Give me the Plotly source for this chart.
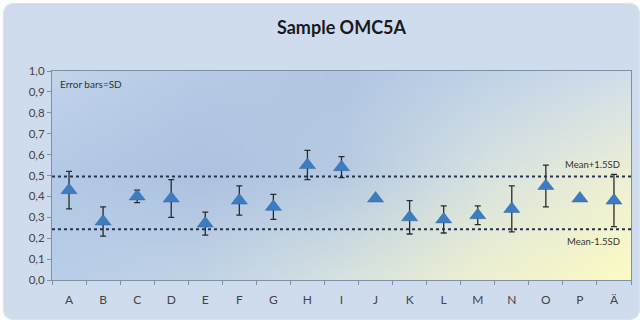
import base64
import struct
import zlib
import plotly.graph_objects as go

categories = ["A", "B", "C", "D", "E", "F", "G", "H", "I", "J", "K", "L", "M", "N", "O", "P", "Ä"]
means = [0.43, 0.28, 0.40, 0.39, 0.27, 0.38, 0.35, 0.55, 0.54, 0.39, 0.30, 0.29, 0.31, 0.34, 0.45, 0.39, 0.38]
sd = [0.09, 0.07, 0.03, 0.09, 0.055, 0.07, 0.06, 0.07, 0.05, 0.01, 0.08, 0.065, 0.045, 0.11, 0.10, 0.01, 0.125]
upper_limit = 0.495
lower_limit = 0.243
y_ticks = [0.0, 0.1, 0.2, 0.3, 0.4, 0.5, 0.6, 0.7, 0.8, 0.9, 1.0]

W, H = 643, 327
L, R, T, B = 52, 12, 71, 47
PW, PH = W - L - R, H - T - B


def encode_png(w, h, rows, rgba):
    raw = b"".join(bytes([0]) + bytes(r) for r in rows)

    def chunk(tag, data):
        c = struct.pack(">I", len(data)) + tag + data
        return c + struct.pack(">I", zlib.crc32(tag + data) & 0xFFFFFFFF)

    png = b"\x89PNG\r\n\x1a\n"
    png += chunk(b"IHDR", struct.pack(">IIBBBBB", w, h, 8, 6 if rgba else 2, 0, 0, 0))
    png += chunk(b"IDAT", zlib.compress(raw, 9))
    png += chunk(b"IEND", b"")
    return "data:image/png;base64," + base64.b64encode(png).decode()


def png_gradient(w, h, grid):
    rows = []
    gh, gw = len(grid), len(grid[0])
    for j in range(h):
        row = bytearray()
        fy = j / (h - 1) * (gh - 1)
        j0 = min(int(fy), gh - 2)
        ty = fy - j0
        for i in range(w):
            fx = i / (w - 1) * (gw - 1)
            i0 = min(int(fx), gw - 2)
            tx = fx - i0
            for c in range(3):
                a = grid[j0][i0][c] * (1 - tx) + grid[j0][i0 + 1][c] * tx
                b = grid[j0 + 1][i0][c] * (1 - tx) + grid[j0 + 1][i0 + 1][c] * tx
                row.append(int(round(a * (1 - ty) + b * ty)))
        rows.append(row)
    return encode_png(w, h, rows, False)


def png_rounded_box(w, h, rad, fill, edge):
    rows = []
    for j in range(h):
        row = bytearray()
        for i in range(w):
            cx = min(max(i + 0.5, rad), w - rad)
            cy = min(max(j + 0.5, rad), h - rad)
            d = ((i + 0.5 - cx) ** 2 + (j + 0.5 - cy) ** 2) ** 0.5
            a = max(0.0, min(1.0, rad - d + 0.5))
            col = edge if d > rad - 1.5 or i == 0 or j == 0 or i == w - 1 or j == h - 1 else fill
            row.extend(col)
            row.append(int(round(255 * a)))
        rows.append(row)
    return encode_png(w, h, rows, True)


grid = [
    [(194, 211, 234), (182, 202, 229), (178, 198, 226), (192, 210, 232), (208, 222, 234)],
    [(180, 201, 229), (172, 194, 224), (182, 202, 226), (215, 226, 224), (238, 240, 212)],
    [(184, 205, 231), (192, 210, 230), (214, 226, 224), (238, 240, 208), (252, 250, 196)],
]
bg_img = png_gradient(80, 40, grid)

bx0, bx1, by0, by1 = 3, 640, 3, 320
box_img = png_rounded_box(bx1 - bx0, by1 - by0, 10, (207, 220, 238), (215, 225, 240))

fig = go.Figure()
fig.add_trace(go.Scatter(
    x=categories, y=means, mode="markers",
    marker=dict(symbol="triangle-up", size=14, color="#3d7cc0",
                line=dict(color="#2f67a6", width=0.5)),
    error_y=dict(type="data", array=sd, visible=True, color="#2b2b2b",
                 thickness=1.3, width=3),
    showlegend=False,
))


def px_x(p):
    return (p - L) / PW


def px_y(p):
    return (H - B - p) / PH


shapes = [
    dict(type="line", xref="paper", yref="y", x0=0, x1=1, y0=upper_limit, y1=upper_limit,
         line=dict(color="#25344d", width=2, dash="dot")),
    dict(type="line", xref="paper", yref="y", x0=0, x1=1, y0=lower_limit, y1=lower_limit,
         line=dict(color="#25344d", width=2, dash="dot")),
]

font_family = "Lato, 'Open Sans', sans-serif"
fig.update_layout(
    width=W, height=H,
    margin=dict(l=L, r=R, t=T, b=B),
    paper_bgcolor="white",
    plot_bgcolor="rgba(0,0,0,0)",
    separators=",.",
    title=dict(text="<b>Sample OMC5A</b>", x=0.5, xref="paper", xanchor="center",
               y=1 - 28 / H, yanchor="middle",
               font=dict(family=font_family, size=18, color="#1a1a1a")),
    font=dict(family=font_family, size=11, color="#444"),
    shapes=shapes,
    images=[
        dict(source=box_img, xref="paper", yref="paper", x=px_x(bx0), y=px_y(by0),
             sizex=px_x(bx1) - px_x(bx0), sizey=px_y(by0) - px_y(by1),
             xanchor="left", yanchor="top", sizing="stretch", layer="below"),
        dict(source=bg_img, xref="paper", yref="paper", x=0, y=1, sizex=1, sizey=1,
             xanchor="left", yanchor="top", sizing="stretch", layer="below"),
    ],
    annotations=[
        dict(text="Error bars=SD", xref="paper", yref="paper", x=6 / PW, y=1 - 13 / PH,
             xanchor="left", yanchor="middle", showarrow=False,
             font=dict(size=10, color="#333")),
        dict(text="Mean+1.5SD", xref="paper", yref="y", x=1 - 9 / PW, y=upper_limit,
             yshift=12, xanchor="right", yanchor="middle", showarrow=False,
             font=dict(size=9.5, color="#333")),
        dict(text="Mean-1.5SD", xref="paper", yref="y", x=1 - 9 / PW, y=lower_limit,
             yshift=-12, xanchor="right", yanchor="middle", showarrow=False,
             font=dict(size=9.5, color="#333")),
    ],
)
fig.update_xaxes(
    type="category", categoryorder="array", categoryarray=categories,
    range=[-0.5, len(categories) - 0.5],
    tickson="boundaries", ticks="outside", ticklen=4, tickcolor="#7f8fa6",
    showline=True, linecolor="#7f8fa6", linewidth=1.2, mirror=True,
    showgrid=False, zeroline=False, ticklabelstandoff=8,
    tickfont=dict(size=12, color="#444"),
)
fig.update_yaxes(
    range=[0, 1.0], tickvals=y_ticks, tickformat=".1f",
    ticks="outside", ticklen=4, tickcolor="#7f8fa6",
    showline=True, linecolor="#7f8fa6", linewidth=1.2, mirror=True,
    showgrid=False, zeroline=False,
    tickfont=dict(size=11.5, color="#444"),
)

fig.write_html("out.html", config={"displayModeBar": False},
               post_script="document.body.style.margin='0';")
